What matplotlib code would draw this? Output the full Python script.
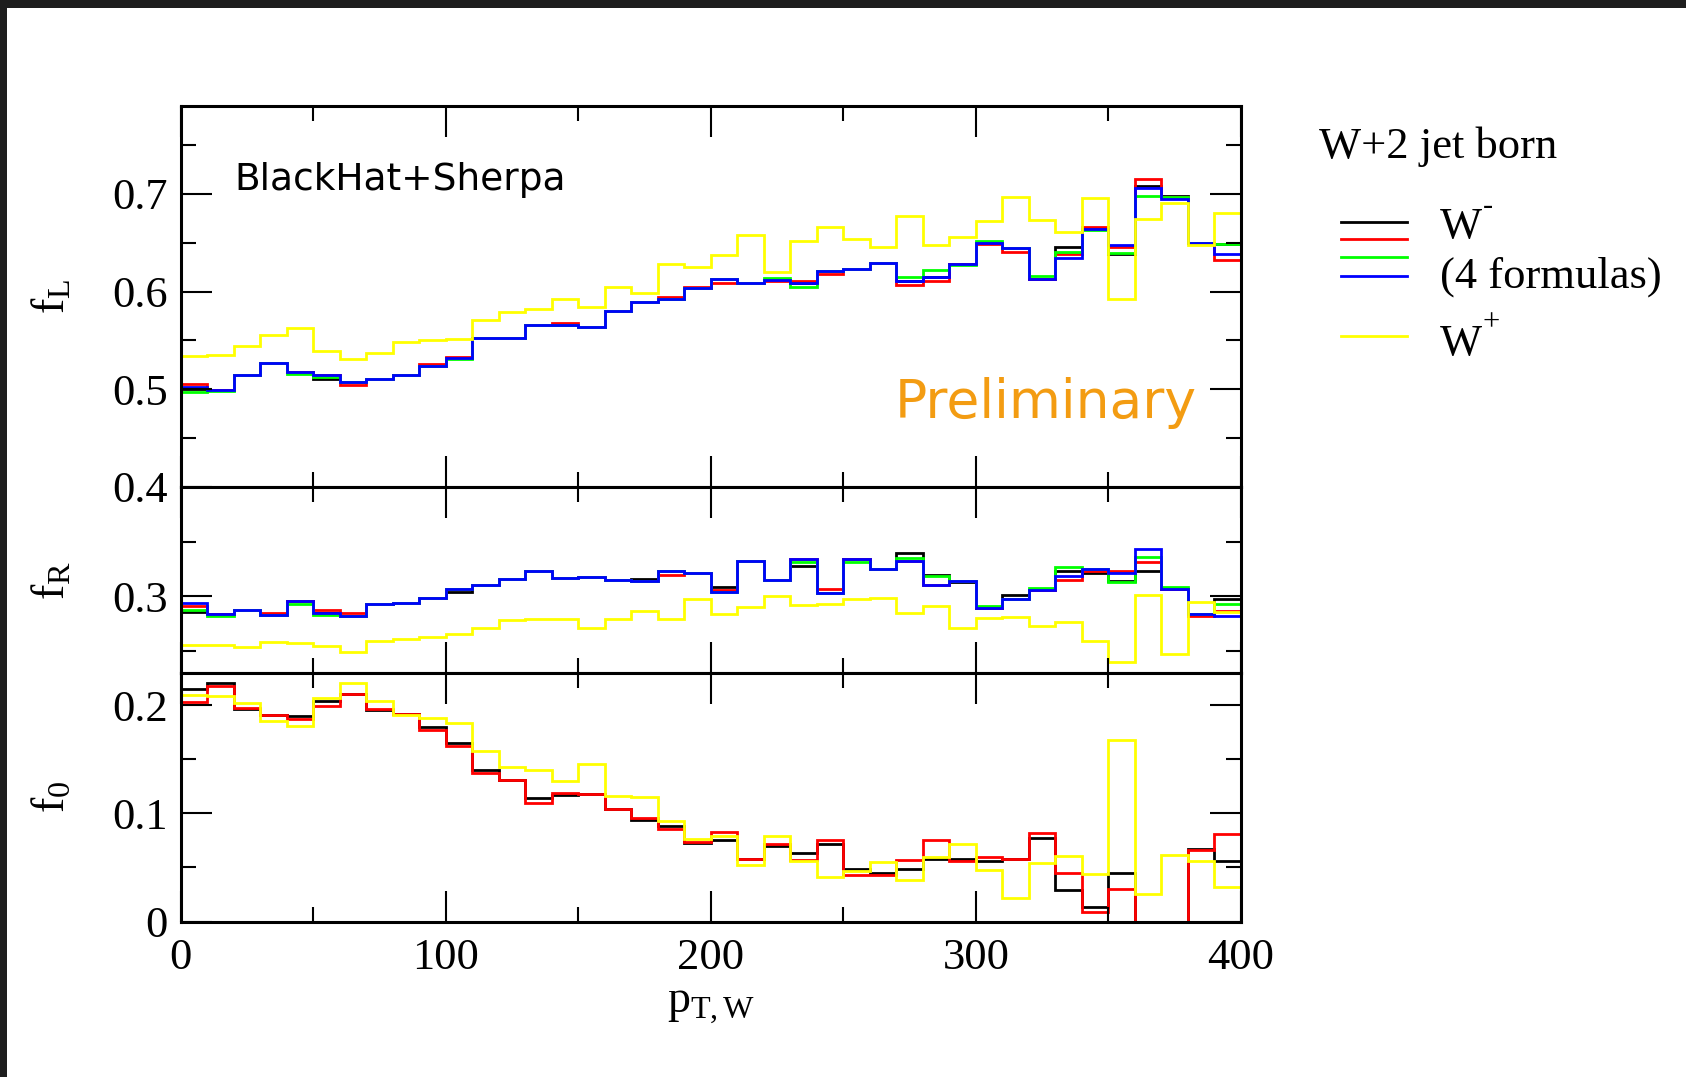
import numpy as np
import matplotlib
matplotlib.use("Agg")
import matplotlib.pyplot as plt
from matplotlib.lines import Line2D
from matplotlib.patches import Rectangle

plt.rcParams['font.family'] = ['Liberation Serif', 'DejaVu Serif']
plt.rcParams['mathtext.fontset'] = 'custom'
plt.rcParams['mathtext.rm'] = 'Liberation Serif'
plt.rcParams['mathtext.it'] = 'Liberation Serif'

# bins de p_T,W (GeV)
bordes = np.arange(0, 410, 10)

# f_L : W- (4 formulas) y W+
fL_negro = [0.500, 0.499, 0.515, 0.527, 0.518, 0.511, 0.507, 0.511, 0.515, 0.524,
            0.532, 0.553, 0.553, 0.566, 0.566, 0.564, 0.580, 0.589, 0.592, 0.604,
            0.613, 0.609, 0.612, 0.609, 0.621, 0.623, 0.629, 0.611, 0.615, 0.628,
            0.650, 0.645, 0.613, 0.646, 0.664, 0.639, 0.708, 0.698, 0.650, 0.649]
fL_rojo = [0.505, 0.499, 0.515, 0.527, 0.518, 0.515, 0.504, 0.511, 0.515, 0.526,
           0.533, 0.553, 0.553, 0.566, 0.568, 0.564, 0.580, 0.589, 0.594, 0.605,
           0.609, 0.609, 0.611, 0.611, 0.618, 0.623, 0.629, 0.607, 0.611, 0.628,
           0.649, 0.641, 0.613, 0.638, 0.666, 0.646, 0.715, 0.697, 0.650, 0.632]
fL_verde = [0.497, 0.498, 0.515, 0.527, 0.516, 0.513, 0.507, 0.511, 0.515, 0.524,
            0.531, 0.553, 0.553, 0.566, 0.566, 0.564, 0.580, 0.589, 0.592, 0.604,
            0.613, 0.609, 0.614, 0.605, 0.621, 0.623, 0.629, 0.615, 0.622, 0.627,
            0.652, 0.645, 0.616, 0.641, 0.663, 0.640, 0.698, 0.697, 0.650, 0.649]
fL_azul = [0.502, 0.499, 0.515, 0.527, 0.518, 0.515, 0.507, 0.511, 0.515, 0.524,
           0.532, 0.553, 0.553, 0.566, 0.566, 0.564, 0.580, 0.589, 0.592, 0.604,
           0.613, 0.609, 0.612, 0.609, 0.621, 0.623, 0.629, 0.611, 0.615, 0.628,
           0.650, 0.645, 0.613, 0.634, 0.664, 0.648, 0.706, 0.695, 0.650, 0.638]
fL_Wmas = [0.534, 0.535, 0.544, 0.556, 0.563, 0.539, 0.531, 0.537, 0.548, 0.550,
           0.551, 0.571, 0.579, 0.582, 0.592, 0.584, 0.605, 0.599, 0.628, 0.625,
           0.637, 0.658, 0.620, 0.652, 0.666, 0.654, 0.646, 0.677, 0.648, 0.656,
           0.672, 0.697, 0.673, 0.661, 0.696, 0.592, 0.674, 0.691, 0.648, 0.680]

# f_R
fR_negro = [0.286, 0.284, 0.288, 0.283, 0.296, 0.285, 0.282, 0.293, 0.294, 0.299,
            0.304, 0.310, 0.316, 0.323, 0.317, 0.318, 0.315, 0.316, 0.323, 0.321,
            0.309, 0.332, 0.315, 0.328, 0.303, 0.334, 0.325, 0.340, 0.320, 0.313,
            0.289, 0.301, 0.306, 0.323, 0.321, 0.314, 0.323, 0.307, 0.284, 0.298]
fR_rojo = [0.291, 0.284, 0.288, 0.285, 0.296, 0.288, 0.285, 0.293, 0.294, 0.299,
           0.307, 0.310, 0.316, 0.323, 0.317, 0.318, 0.315, 0.314, 0.320, 0.321,
           0.306, 0.332, 0.315, 0.334, 0.307, 0.334, 0.325, 0.332, 0.310, 0.314,
           0.289, 0.298, 0.306, 0.315, 0.323, 0.323, 0.331, 0.307, 0.282, 0.287]
fR_verde = [0.288, 0.282, 0.288, 0.283, 0.293, 0.283, 0.282, 0.293, 0.294, 0.299,
            0.307, 0.310, 0.316, 0.323, 0.317, 0.318, 0.315, 0.314, 0.323, 0.321,
            0.304, 0.332, 0.315, 0.331, 0.303, 0.331, 0.325, 0.335, 0.319, 0.314,
            0.291, 0.298, 0.308, 0.327, 0.325, 0.313, 0.336, 0.309, 0.284, 0.293]
fR_azul = [0.294, 0.284, 0.288, 0.283, 0.296, 0.285, 0.282, 0.293, 0.294, 0.299,
           0.307, 0.310, 0.316, 0.323, 0.317, 0.318, 0.315, 0.314, 0.323, 0.321,
           0.304, 0.332, 0.315, 0.334, 0.303, 0.334, 0.325, 0.332, 0.310, 0.314,
           0.289, 0.298, 0.306, 0.319, 0.325, 0.321, 0.343, 0.307, 0.284, 0.282]
fR_Wmas = [0.256, 0.256, 0.254, 0.258, 0.257, 0.255, 0.249, 0.259, 0.261, 0.263,
           0.266, 0.271, 0.278, 0.279, 0.279, 0.271, 0.279, 0.287, 0.279, 0.298,
           0.284, 0.290, 0.300, 0.292, 0.293, 0.298, 0.299, 0.285, 0.291, 0.271,
           0.280, 0.281, 0.273, 0.277, 0.259, 0.240, 0.301, 0.247, 0.295, 0.286]

# f_0
f0_negro = [0.215, 0.221, 0.197, 0.191, 0.190, 0.204, 0.211, 0.196, 0.192, 0.180,
            0.165, 0.140, 0.131, 0.114, 0.117, 0.118, 0.104, 0.094, 0.088, 0.073,
            0.075, 0.058, 0.070, 0.063, 0.072, 0.049, 0.045, 0.049, 0.058, 0.058,
            0.056, 0.058, 0.077, 0.029, 0.013, 0.045, -0.05, -0.05, 0.067, 0.056]
f0_rojo = [0.203, 0.218, 0.198, 0.191, 0.187, 0.199, 0.211, 0.197, 0.192, 0.177,
           0.162, 0.137, 0.131, 0.110, 0.119, 0.118, 0.104, 0.096, 0.086, 0.074,
           0.083, 0.058, 0.072, 0.057, 0.075, 0.043, 0.043, 0.057, 0.075, 0.056,
           0.060, 0.058, 0.082, 0.045, 0.009, 0.030, -0.05, -0.05, 0.066, 0.081]
f0_Wmas = [0.210, 0.209, 0.202, 0.186, 0.181, 0.207, 0.221, 0.204, 0.191, 0.188,
           0.184, 0.158, 0.143, 0.140, 0.130, 0.146, 0.116, 0.115, 0.093, 0.076,
           0.079, 0.052, 0.079, 0.056, 0.041, 0.047, 0.055, 0.038, 0.060, 0.072,
           0.048, 0.022, 0.054, 0.061, 0.044, 0.168, 0.025, 0.062, 0.056, 0.032]

W, H = 1686, 1077
fig = plt.figure(figsize=(W / 100, H / 100), dpi=100)

# marco oscuro arriba y a la izquierda
fig.add_artist(Rectangle((0, 1 - 8 / H), 1, 8 / H, transform=fig.transFigure,
                         color='#1e1e1e', lw=0))
fig.add_artist(Rectangle((0, 0), 7 / W, 1, transform=fig.transFigure,
                         color='#1e1e1e', lw=0))


def panel(y_arriba, y_abajo):
    ax = fig.add_axes([180.6 / W, 1 - y_abajo / H, (1241 - 180.6) / W,
                       (y_abajo - y_arriba) / H])
    for s in ax.spines.values():
        s.set_linewidth(2.2)
    ax.set_xlim(0, 400)
    ax.set_xticks([0, 100, 200, 300, 400])
    ax.set_xticks([50, 150, 250, 350], minor=True)
    ax.tick_params(which='both', direction='in', top=True, right=True,
                   width=1.5, labelsize=32)
    ax.tick_params(which='major', length=22)
    ax.tick_params(which='minor', length=11)
    ax.tick_params(axis='y', pad=9)
    ax.tick_params(axis='x', pad=12)
    return ax


ax1 = panel(106, 487)
ax2 = panel(487, 673)
ax3 = panel(673, 921.5)

colores = ['black', 'red', '#00ff00', 'blue']

# Graficar f_L
for serie, c in zip([fL_negro, fL_rojo, fL_verde, fL_azul], colores):
    ax1.stairs(serie, bordes, color=c, lw=2)
ax1.stairs(fL_Wmas, bordes, color='#ffff00', lw=2)
ax1.set_ylim(0.4, 0.79)
ax1.set_yticks([0.4, 0.5, 0.6, 0.7])
ax1.set_yticklabels(['0.4', '0.5', '0.6', '0.7'])
ax1.set_yticks([0.45, 0.55, 0.65, 0.75], minor=True)
ax1.tick_params(labelbottom=False)
ax1.set_ylabel(r'$\mathregular{f_L}$', fontsize=33)

# Graficar f_R
for serie, c in zip([fR_negro, fR_rojo, fR_verde, fR_azul], colores):
    ax2.stairs(serie, bordes, color=c, lw=2)
ax2.stairs(fR_Wmas, bordes, color='#ffff00', lw=2)
ax2.set_ylim(0.23, 0.4)
ax2.set_yticks([0.3])
ax2.set_yticklabels(['0.3'])
ax2.set_yticks([0.25, 0.35], minor=True)
ax2.tick_params(labelbottom=False)
ax2.set_ylabel(r'$\mathregular{f_R}$', fontsize=33)

# Graficar f_0
for serie, c in zip([f0_negro, f0_rojo], colores[:2]):
    ax3.stairs(serie, bordes, color=c, lw=2)
ax3.stairs(f0_Wmas, bordes, color='#ffff00', lw=2)
ax3.set_ylim(0, 0.23)
ax3.set_yticks([0, 0.1, 0.2])
ax3.set_yticklabels(['0', '0.1', '0.2'])
ax3.set_yticks([0.05, 0.15], minor=True)
ax3.set_ylabel(r'$\mathregular{f_0}$', fontsize=33)
ax3.set_xlabel(r'$\mathregular{p_{T,W}}$', fontsize=33, labelpad=4)

for ax in (ax1, ax2, ax3):
    ax.yaxis.set_label_coords(-0.1, 0.5)

ax1.text(234 / W, 1 - 190 / H, 'BlackHat+Sherpa', transform=fig.transFigure,
         family='DejaVu Sans', fontsize=27, va='baseline')
ax1.text(895 / W, 1 - 418 / H, 'Preliminary', transform=fig.transFigure,
         family='DejaVu Sans', fontsize=38.5, va='baseline', color='#F39C12')

# Leyenda
fig.text(1319 / W, 1 - 158 / H, 'W+2 jet born', fontsize=32, va='baseline')
for yy, c in zip([222, 238.5, 256.5, 275.5, 335.5], colores + ['#ffff00']):
    fig.add_artist(Line2D([1341 / W, 1407 / W], [1 - yy / H, 1 - yy / H],
                          transform=fig.transFigure, color=c, lw=2))
fig.text(1440 / W, 1 - 238 / H, 'W', fontsize=32, va='baseline')
fig.text(1483 / W, 1 - 214 / H, '-', fontsize=22, va='baseline')
fig.text(1440 / W, 1 - 288 / H, '(4 formulas)', fontsize=32, va='baseline')
fig.text(1440 / W, 1 - 355 / H, 'W', fontsize=32, va='baseline')
fig.text(1482 / W, 1 - 330 / H, '+', fontsize=22, va='baseline')

plt.savefig('out.png', dpi=100)
